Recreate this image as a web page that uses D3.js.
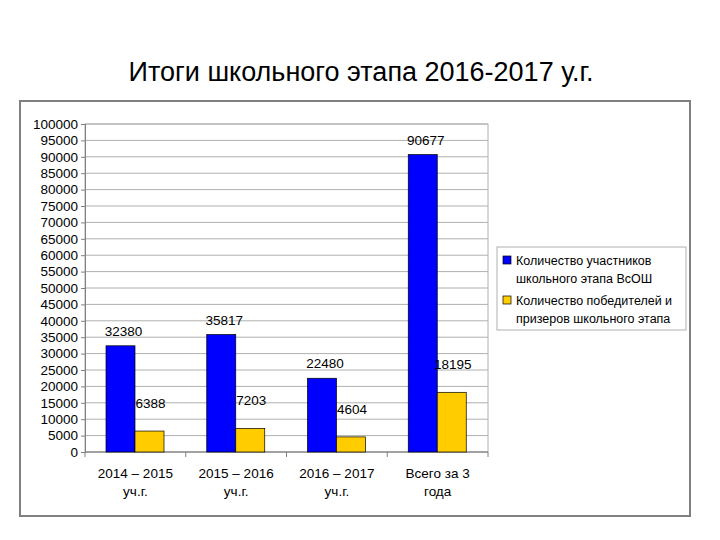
<!DOCTYPE html>
<html><head><meta charset="utf-8">
<script src="https://cdn.jsdelivr.net/npm/d3@7"></script>
<style>body{margin:0;background:#fff}text{font-family:"Liberation Sans",Arial,sans-serif}</style>
</head><body><svg id="c" width="720" height="540"></svg>
<script>
const categories = [["2014 – 2015","уч.г."],["2015 – 2016","уч.г."],["2016 – 2017","уч.г."],["Всего за 3","года"]];
const participants = [32380, 35817, 22480, 90677];
const winners = [6388, 7203, 4604, 18195];
const seriesNames = [["Количество участников","школьного этапа ВсОШ"],["Количество победителей и","призеров школьного этапа"]];
const colors = ["#0000ff", "#ffcc00"];
const yTicks = d3.range(0, 100001, 5000);

const svg = d3.select("#c");
svg.append("text").attr("x",361).attr("y",81).attr("text-anchor","middle").attr("font-size",27).text("Итоги школьного этапа 2016-2017 у.г.");
svg.append("rect").attr("x",20).attr("y",101).attr("width",670).attr("height",415).attr("fill","#fff").attr("stroke","#808080").attr("stroke-width",2);

const L=85,R=488,T=124,B=452;
const x = d3.scaleBand().domain(d3.range(4)).range([L,R]);
const y = d3.scaleLinear().domain([0,100000]).range([B,T]);
const g = svg.append("g");
g.selectAll("line.grid").data(yTicks).join("line").attr("x1",L).attr("x2",R).attr("y1",d=>y(d)).attr("y2",d=>y(d)).attr("stroke","#b0b0b0");
g.append("rect").attr("x",L).attr("y",T).attr("width",R-L).attr("height",B-T).attr("fill","none").attr("stroke","#b0b0b0");
const ax = g.append("g").attr("transform",`translate(${L},0)`).call(d3.axisLeft(y).tickValues(yTicks).tickSize(4).tickFormat(d3.format("d")));
ax.selectAll("text").attr("font-size",13.5).attr("fill","#000").attr("font-family","Liberation Sans, Arial");
ax.select(".domain").attr("stroke","#808080");ax.selectAll("line").attr("stroke","#808080");
g.append("line").attr("x1",L).attr("x2",R).attr("y1",B).attr("y2",B).attr("stroke","#808080");
g.selectAll("line.xt").data(d3.range(5)).join("line").attr("x1",d=>L+d*x.bandwidth()).attr("x2",d=>L+d*x.bandwidth()).attr("y1",B).attr("y2",B+5).attr("stroke","#808080");

const bw=29, off=21;
[participants,winners].forEach((vals,s)=>{
  g.selectAll(null).data(vals).join("rect")
   .attr("x",(d,i)=>x(i)+off+s*bw).attr("y",d=>y(d)).attr("width",bw).attr("height",d=>B-y(d))
   .attr("fill",colors[s]).attr("stroke","#000").attr("stroke-width",0.7);
  g.selectAll(null).data(vals).join("text")
   .attr("x",(d,i)=>x(i)+off+s*bw+bw/2+(s?1:3)).attr("y",d=>y(d)-(s?23:10)).attr("text-anchor","middle").attr("font-size",13.5).text(d=>d);
});
categories.forEach((c,i)=>{
  c.forEach((t,j)=>g.append("text").attr("x",x(i)+x.bandwidth()/2).attr("y",478+j*18).attr("text-anchor","middle").attr("font-size",13.5).text(t));
});

const lg = svg.append("g");
lg.append("rect").attr("x",497).attr("y",247).attr("width",189).attr("height",83).attr("fill","#fff").attr("stroke","#b0b0b0");
seriesNames.forEach((n,s)=>{
  lg.append("rect").attr("x",503).attr("y",256+s*40).attr("width",8).attr("height",8).attr("fill",colors[s]).attr("stroke","#000").attr("stroke-width",0.7);
  n.forEach((t,j)=>lg.append("text").attr("x",516).attr("y",265+s*40+j*18).attr("font-size",12.5).text(t));
});
</script></body></html>
